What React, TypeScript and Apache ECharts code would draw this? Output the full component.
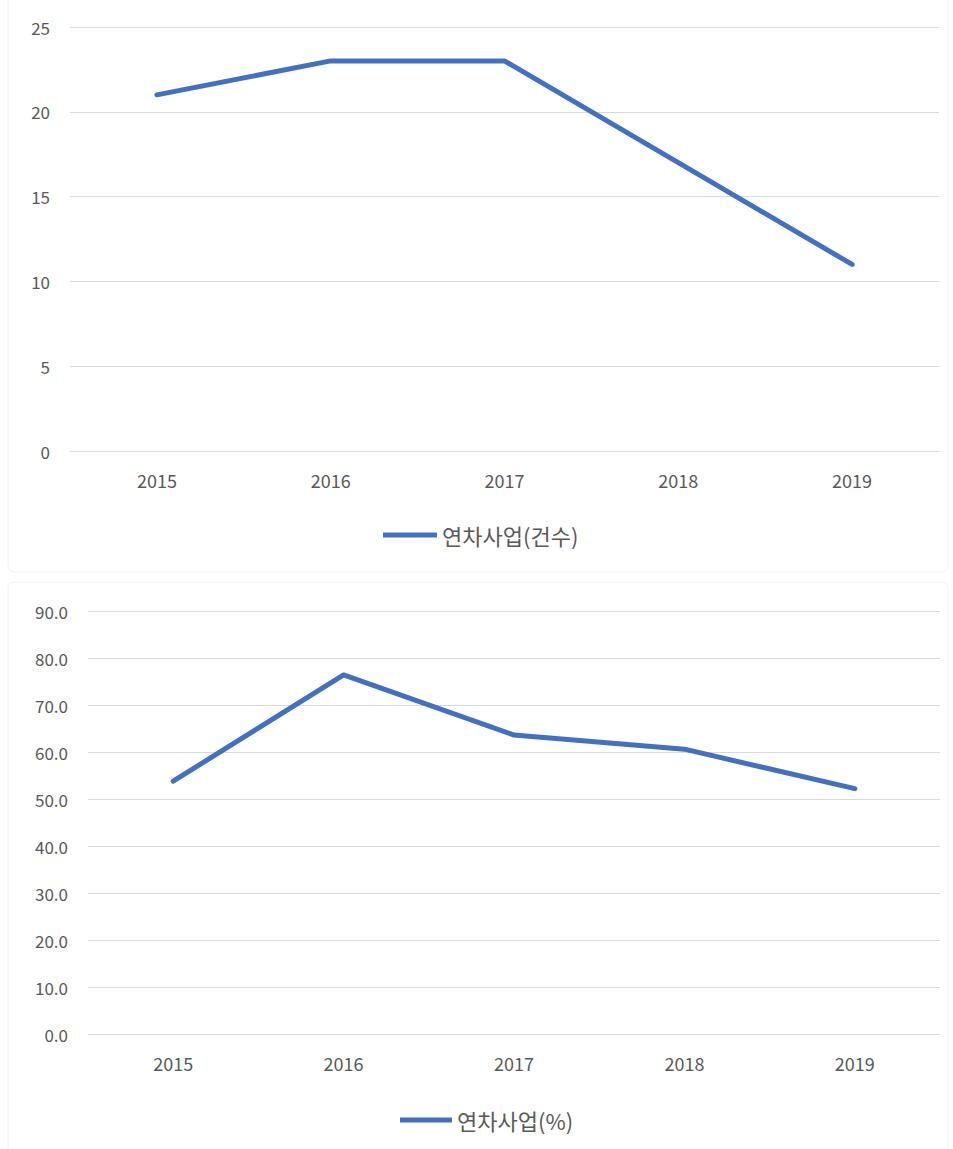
import React, { useEffect, useRef } from "react";
import * as echarts from "echarts";

const years = ["2015", "2016", "2017", "2018", "2019"];
const countValues = [21, 23, 23, 17, 11];
const percentValues = [53.8, 76.4, 63.6, 60.6, 52.2];
const countSeriesName = "연차사업(건수)";
const percentSeriesName = "연차사업(%)";

const LINE_COLOR = "#4270C5";
const GRID_COLOR = "#D9D9D9";
const LABEL_COLOR = "#595959";
const FONT = "'Noto Sans CJK KR', 'Noto Sans', sans-serif";

export default function App() {
  const ref = useRef<HTMLDivElement>(null);
  useEffect(() => {
    document.body.style.margin = "0";
    const chart = echarts.init(ref.current!, undefined, { renderer: "svg" });
    const axisLabelX = { color: LABEL_COLOR, fontSize: 18, fontFamily: FONT, margin: 20 };
    const axisLabelY = { color: LABEL_COLOR, fontSize: 17, fontFamily: FONT, margin: 20 };
    const legendText = { color: LABEL_COLOR, fontSize: 22, fontFamily: FONT, lineHeight: 24 };
    chart.setOption({
      animation: false,
      backgroundColor: "#ffffff",
      graphic: [
        { type: "rect", shape: { x: 8, y: -6, width: 940, height: 578, r: 6 }, style: { fill: "none", stroke: "#F2F2F2", lineWidth: 1 }, silent: true },
        { type: "rect", shape: { x: 8, y: 582, width: 940, height: 572, r: 6 }, style: { fill: "none", stroke: "#F2F2F2", lineWidth: 1 }, silent: true },
      ],
      grid: [
        { left: 70, right: 14, top: 27, bottom: 698 },
        { left: 88, right: 13, top: 611, bottom: 115 },
      ],
      legend: [
        {
          data: [countSeriesName],
          left: 378,
          top: 518,
          icon: "rect",
          itemWidth: 54,
          itemHeight: 5,
          itemGap: 5,
          textStyle: legendText,
        },
        {
          data: [percentSeriesName],
          left: 395,
          top: 1103,
          icon: "rect",
          itemWidth: 52,
          itemHeight: 5,
          itemGap: 5,
          textStyle: legendText,
        },
      ],
      xAxis: [
        {
          type: "category",
          gridIndex: 0,
          data: years,
          boundaryGap: true,
          axisLine: { show: true, lineStyle: { color: GRID_COLOR, width: 1 } },
          axisTick: { show: false },
          axisLabel: axisLabelX,
        },
        {
          type: "category",
          gridIndex: 1,
          data: years,
          boundaryGap: true,
          axisLine: { show: true, lineStyle: { color: GRID_COLOR, width: 1 } },
          axisTick: { show: false },
          axisLabel: axisLabelX,
        },
      ],
      yAxis: [
        {
          type: "value",
          gridIndex: 0,
          min: 0,
          max: 25,
          interval: 5,
          axisLine: { show: false },
          axisTick: { show: false },
          splitLine: { lineStyle: { color: GRID_COLOR, width: 1 } },
          axisLabel: axisLabelY,
        },
        {
          type: "value",
          gridIndex: 1,
          min: 0,
          max: 90,
          interval: 10,
          axisLine: { show: false },
          axisTick: { show: false },
          splitLine: { lineStyle: { color: GRID_COLOR, width: 1 } },
          axisLabel: { ...axisLabelY, formatter: (v: number) => v.toFixed(1) },
        },
      ],
      series: [
        {
          name: countSeriesName,
          type: "line",
          xAxisIndex: 0,
          yAxisIndex: 0,
          data: countValues,
          showSymbol: false,
          symbol: "none",
          itemStyle: { color: LINE_COLOR },
          lineStyle: { color: LINE_COLOR, width: 5, cap: "round", join: "round" },
        },
        {
          name: percentSeriesName,
          type: "line",
          xAxisIndex: 1,
          yAxisIndex: 1,
          data: percentValues,
          showSymbol: false,
          symbol: "none",
          itemStyle: { color: LINE_COLOR },
          lineStyle: { color: LINE_COLOR, width: 5, cap: "round", join: "round" },
        },
      ],
    });
    return () => chart.dispose();
  }, []);
  return <div ref={ref} style={{ width: 953, height: 1149 }} />;
}
